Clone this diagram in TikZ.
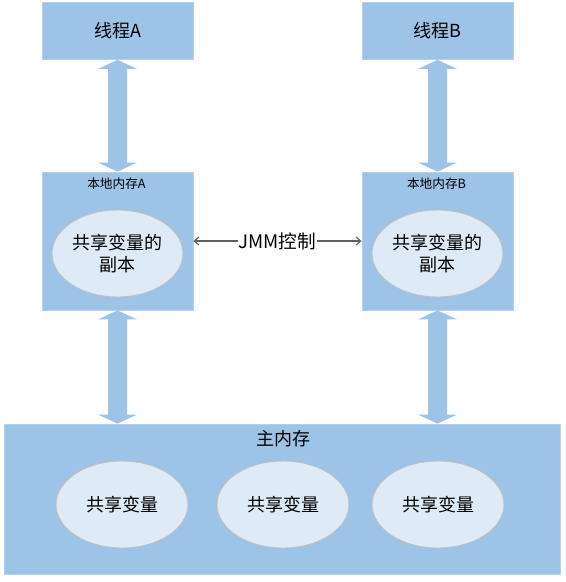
\documentclass[tikz,border=0pt]{standalone}
\usepackage{fontspec}
\setmainfont{Noto Sans CJK SC}
\usetikzlibrary{calc,arrows.meta,shapes.geometric}
\definecolor{boxblue}{HTML}{9DC3E6}
\definecolor{boxedge}{HTML}{B3D1EE}
\definecolor{ellfill}{HTML}{DEEBF7}
\definecolor{elledge}{HTML}{C0C0C0}
\definecolor{jmmgray}{HTML}{606060}
\newcommand\dblarrow[2]{%
  \fill[barrow] (#1) -- ($(#1)+(19.5,9)$) -- ($(#1)+(9.5,9)$) -- ($(#2)+(9.5,-9)$) --
    ($(#2)+(19.5,-9)$) -- (#2) -- ($(#2)+(-19.5,-9)$) -- ($(#2)+(-9.5,-9)$) --
    ($(#1)+(-9.5,9)$) -- ($(#1)+(-19.5,9)$) -- cycle;}
\begin{document}
\begin{tikzpicture}[x=0.75pt,y=-0.75pt,
  bigtext/.style={font=\fontsize{13.5}{17}\selectfont},
  smalltext/.style={font=\fontsize{9.5}{11}\selectfont},
  bluebox/.style={rectangle,fill=boxblue,draw=boxedge,line width=0.6pt,inner sep=0pt},
  copyell/.style={ellipse,fill=ellfill,draw=elledge,line width=0.7pt,inner sep=0pt,
    minimum width=98.25pt,minimum height=65.25pt,align=center,bigtext},
  barrow/.style={fill=boxblue},
  jmmline/.style={draw=jmmgray,line width=0.85pt,{Straight Barb[length=3.5pt,width=6pt]}-{Straight Barb[length=3.5pt,width=6pt]}}
]
\useasboundingbox (0,0) rectangle (565,582);
% thread boxes
\node[bluebox,minimum width=113.25pt,minimum height=42.75pt,bigtext] (threadA) at (117.5,31) {线程A};
\node[bluebox,minimum width=113.25pt,minimum height=42.75pt,bigtext] (threadB) at (437.5,31) {线程B};
% local memory boxes
\node[bluebox,minimum width=113.25pt,minimum height=103.5pt] (localA) at (117.5,241) {};
\node[bluebox,minimum width=113.25pt,minimum height=103.5pt] (localB) at (437.5,241) {};
\node[smalltext] (labA) at (116.5,184) {本地内存A};
\node[smalltext] (labB) at (436.5,184) {本地内存B};
\node[copyell] (copyA) at (117.5,253.5) {共享变量的\\副本};
\node[copyell] (copyB) at (437.5,253.5) {共享变量的\\副本};
% main memory
\node[bluebox,minimum width=417pt,minimum height=112.5pt] (main) at (282,499) {};
\node[bigtext] (mainlab) at (283,439) {主内存};
\node[copyell,minimum width=99pt] (var1) at (122,504.5) {共享变量};
\node[copyell,minimum width=99pt] (var2) at (283,504.5) {共享变量};
\node[copyell,minimum width=99pt] (var3) at (438,504.5) {共享变量};
% block arrows
\dblarrow{threadA.south}{localA.north}
\dblarrow{threadB.south}{localB.north}
\coordinate (mA) at (localA.south |- main.north);
\coordinate (mB) at (localB.south |- main.north);
\dblarrow{localA.south}{mA}
\dblarrow{localB.south}{mB}
% JMM control
\draw[jmmline] (localA.east) -- node[fill=white,inner sep=0.5pt,font=\fontsize{14}{17}\selectfont] (jmm) {JMM控制} (localB.west);
\end{tikzpicture}
\end{document}
